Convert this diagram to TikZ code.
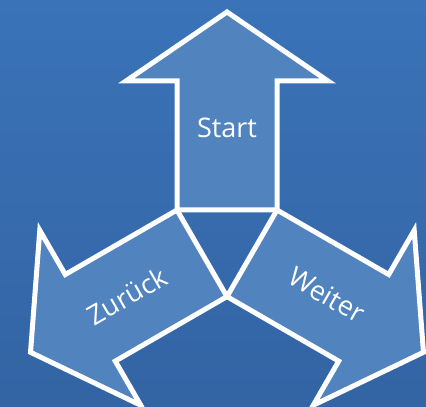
\documentclass[tikz,border=0pt]{standalone}
\usepackage{fontspec}
\setmainfont{Open Sans}
\definecolor{bgtop}{RGB}{58,115,184}
\definecolor{bgbot}{RGB}{51,100,164}
\definecolor{arrowfill}{RGB}{81,131,190}
\begin{document}
\begin{tikzpicture}[x=1pt,y=1pt,
  arrowshape/.style={fill=arrowfill, draw=white, line width=5pt, line join=miter},
  lbl/.style={text=white, font=\fontsize{27}{33}\selectfont, inner sep=0pt}]
\useasboundingbox (0,0) rectangle (426,407);
\shade[top color=bgtop, bottom color=bgbot] (0,0) rectangle (426,407);
\clip (0,0) rectangle (426,407);
\coordinate (c) at (227,168.13);
\foreach \ang in {0,120,-120} {
  \draw[arrowshape, rotate around={\ang:(c)}]
    (177,197) -- (177,326) -- (126,326) -- (227,395) -- (328,326) -- (277,326) -- (277,197) -- cycle;
}
\node[lbl] (start) at (227,279) {Start};
\node[lbl, rotate=30] (zurueck) at (127,111) {Zurück};
\node[lbl, rotate=-30] (weiter) at (327,112) {Weiter};
\end{tikzpicture}
\end{document}
